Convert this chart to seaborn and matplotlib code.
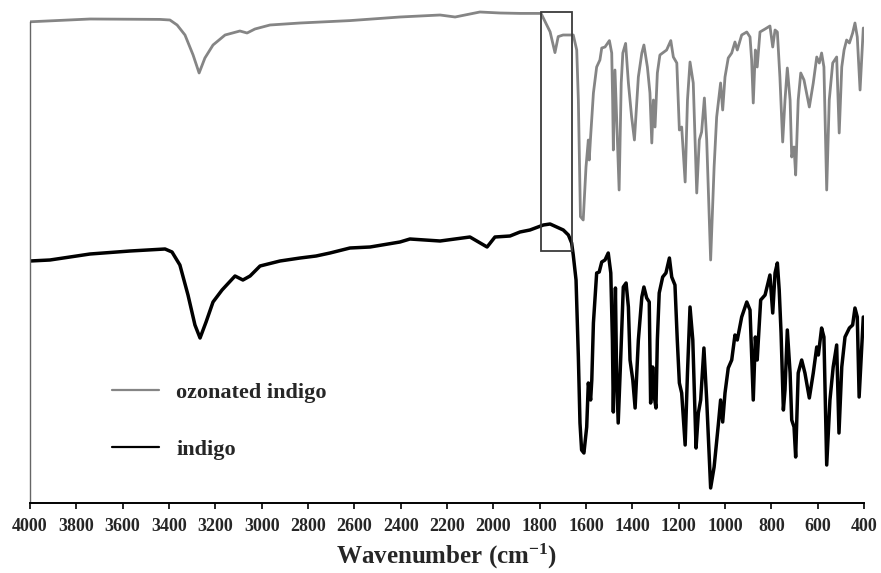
import matplotlib
matplotlib.use("Agg")
import matplotlib.pyplot as plt
import seaborn as sns
import pandas as pd
from matplotlib.patches import Rectangle

# ---- data (wavenumber in cm-1, transmittance in arbitrary offset units) ----
oz_wn = [4000, 3741, 3439, 3396, 3365, 3331, 3296, 3270, 3245, 3210, 3158, 3094, 3063, 3029,
         2964, 2834, 2619, 2403, 2230, 2165, 2058, 1971, 1885, 1794, 1755, 1734, 1720, 1699,
         1662, 1655, 1640, 1633, 1628, 1624, 1612, 1600, 1590, 1586, 1581, 1568, 1554, 1540,
         1532, 1518, 1499, 1489, 1485, 1482, 1475, 1457, 1448, 1441, 1429, 1417, 1403, 1391,
         1374, 1359, 1350, 1335, 1324, 1316, 1309, 1302, 1292, 1281, 1252, 1234, 1223, 1208,
         1197, 1187, 1172, 1162, 1151, 1137, 1122, 1111, 1101, 1089, 1079, 1062, 1047, 1036,
         1019, 1010, 1000, 986, 971, 957, 947, 928, 906, 892, 885, 878, 869, 861, 849, 827,
         806, 794, 784, 774, 763, 751, 741, 731, 719, 712, 702, 695, 684, 673, 659, 636, 619,
         604, 593, 583, 573, 561, 550, 535, 518, 507, 496, 486, 475, 463, 449, 439, 429, 417,
         403]
oz_t = [120.3, 121.0, 120.9, 120.75, 119.5, 117.0, 112.0, 107.5, 111.25, 114.5, 117.0, 118.0,
        117.5, 118.5, 119.5, 120.0, 120.6, 121.5, 122.0, 121.5, 122.75, 122.5, 122.4, 122.4,
        117.8, 112.6, 116.6, 117.0, 117.0, 117.0, 113.25, 100.75, 84.0, 71.6, 70.75, 84.0,
        90.75, 85.75, 90.75, 102.5, 109.0, 110.75, 113.75, 114.0, 115.6, 112.5, 100.75, 88.25,
        108.25, 78.25, 105.0, 112.5, 114.9, 105.0, 96.5, 90.75, 106.5, 112.5, 114.5, 109.0,
        102.5, 90.0, 100.75, 94.0, 107.5, 112.0, 113.25, 115.6, 111.5, 110.0, 93.25, 94.0,
        80.25, 100.75, 110.25, 105.0, 77.5, 90.75, 92.75, 101.25, 90.75, 60.75, 84.0, 96.5,
        105.0, 98.25, 106.5, 111.25, 112.5, 115.25, 113.25, 117.0, 117.75, 116.5, 110.75,
        100.0, 113.25, 109.0, 117.75, 118.5, 119.25, 114.0, 118.25, 117.75, 106.5, 90.25,
        100.75, 108.75, 100.75, 86.5, 89.0, 82.0, 100.75, 107.5, 105.75, 99.0, 105.0, 111.5,
        110.0, 112.5, 109.0, 78.25, 100.75, 110.0, 111.5, 92.5, 109.0, 113.25, 115.75, 115.0,
        117.5, 120.0, 116.5, 103.25, 118.75]

in_wn = [4000, 3914, 3741, 3568, 3417, 3387, 3353, 3318, 3288, 3266, 3240, 3210, 3171, 3115,
         3081, 3050, 3007, 2921, 2834, 2765, 2705, 2619, 2532, 2403, 2360, 2230, 2101, 2027,
         1993, 1928, 1885, 1842, 1784, 1755, 1727, 1698, 1676, 1662, 1655, 1643, 1633, 1626,
         1619, 1609, 1597, 1590, 1580, 1575, 1568, 1554, 1543, 1532, 1518, 1504, 1493, 1486,
         1482, 1473, 1468, 1461, 1450, 1439, 1427, 1417, 1410, 1398, 1388, 1374, 1359, 1350,
         1338, 1327, 1321, 1312, 1305, 1298, 1292, 1284, 1269, 1255, 1240, 1230, 1216, 1206,
         1197, 1187, 1172, 1162, 1151, 1139, 1125, 1115, 1105, 1091, 1079, 1062, 1047, 1029,
         1019, 1010, 1000, 986, 971, 957, 947, 928, 906, 892, 878, 869, 861, 846, 827, 806,
         794, 784, 774, 766, 758, 748, 741, 731, 719, 712, 702, 695, 684, 669, 655, 636, 619,
         604, 597, 583, 573, 561, 547, 533, 518, 508, 496, 482, 463, 449, 439, 429, 421, 403]
in_t = [60.5, 60.75, 62.25, 63.0, 63.5, 62.75, 59.5, 52.0, 44.5, 41.25, 45.25, 50.25, 53.25,
        56.75, 55.75, 56.75, 59.25, 60.5, 61.25, 61.75, 62.5, 63.75, 64.0, 65.25, 66.0, 65.5,
        66.5, 64.0, 66.5, 66.75, 67.75, 68.25, 69.5, 69.75, 69.0, 68.25, 67.0, 65.0, 62.0,
        55.75, 36.5, 20.0, 13.25, 12.5, 19.0, 30.0, 25.75, 30.75, 45.0, 57.5, 57.75, 60.25,
        60.75, 62.5, 57.5, 40.75, 22.75, 53.75, 32.5, 20.0, 36.5, 54.0, 55.0, 49.0, 35.75,
        30.75, 23.75, 40.75, 51.5, 54.0, 51.25, 50.25, 25.0, 34.0, 26.5, 23.75, 40.75, 52.5,
        56.5, 57.5, 61.25, 56.5, 54.5, 40.75, 30.0, 27.5, 14.5, 32.5, 49.0, 40.75, 13.75,
        22.5, 25.75, 38.75, 25.75, 3.75, 9.0, 19.5, 25.75, 20.25, 27.5, 33.75, 35.75, 42.0,
        40.75, 46.5, 50.25, 48.25, 25.75, 41.5, 35.75, 50.75, 52.0, 57.0, 47.5, 57.5, 60.0,
        53.25, 42.5, 23.25, 28.25, 43.25, 32.5, 20.75, 19.0, 11.5, 32.5, 35.75, 32.5, 26.25,
        32.5, 39.0, 37.0, 43.75, 41.5, 9.5, 25.75, 34.0, 39.5, 17.5, 34.0, 41.5, 43.75, 44.5,
        48.75, 46.5, 26.5, 46.5]

series_names = ["ozonated indigo", "indigo"]
series_colors = ["#858585", "#000000"]
x_ticks = list(range(4000, 399, -200))
box_wn = (1794, 1660)
box_t = (63.0, 122.75)

# ---- figure ----
sns.set_theme(style="white")
plt.rcParams["font.family"] = ["Liberation Serif", "DejaVu Serif"]
plt.rcParams["font.weight"] = "bold"
plt.rcParams["mathtext.fontset"] = "custom"
plt.rcParams["mathtext.rm"] = "Liberation Serif:bold"
plt.rcParams["mathtext.bf"] = "Liberation Serif:bold"
plt.rcParams["mathtext.it"] = "Liberation Serif:bold"

fig = plt.figure(figsize=(8.81, 5.73), dpi=100)
ax = fig.add_axes([30 / 881, 70 / 573, (864 - 30) / 881, (503 - 5) / 573])

df_oz = pd.DataFrame({"wn": oz_wn, "t": oz_t})
df_in = pd.DataFrame({"wn": in_wn, "t": in_t})
sns.lineplot(data=df_oz, x="wn", y="t", sort=False, estimator=None, ax=ax,
             color=series_colors[0], lw=2.0, label=series_names[0])
sns.lineplot(data=df_in, x="wn", y="t", sort=False, estimator=None, ax=ax,
             color=series_colors[1], lw=2.5, label=series_names[1])

ax.add_patch(Rectangle((box_wn[0], box_t[0]), box_wn[1] - box_wn[0], box_t[1] - box_t[0],
                       fill=False, edgecolor="#3a3a3a", lw=1.3, zorder=5))

ax.set_xlim(4000, 400)
ax.set_ylim(0, 124.5)
ax.set_xticks(x_ticks)
ax.set_xticklabels([str(v) for v in x_ticks], fontsize=13, fontweight="bold")
ax.set_yticks([])
ax.set_ylabel("")
ax.set_xlabel("Wavenumber (cm$^{-1}$)", fontsize=18, fontweight="bold", labelpad=5)
ax.tick_params(axis="x", direction="out", length=4, width=1.2, color="black", pad=7,
               bottom=True)

for s in ["top", "right"]:
    ax.spines[s].set_visible(False)
ax.spines["bottom"].set_color("black")
ax.spines["bottom"].set_linewidth(1.4)
ax.spines["left"].set_color("#666666")
ax.spines["left"].set_linewidth(1.0)
ax.spines["left"].set_bounds(0, oz_t[0])

leg = ax.legend(loc="upper left", bbox_to_anchor=(82 / 834, (503 - 382) / 498),
                frameon=False, fontsize=16, handlelength=2.1, handletextpad=0.8,
                labelspacing=1.65, borderpad=0, borderaxespad=0)
for line in leg.get_lines():
    line.set_linewidth(1.6)

fig.savefig("out.png", dpi=100)
